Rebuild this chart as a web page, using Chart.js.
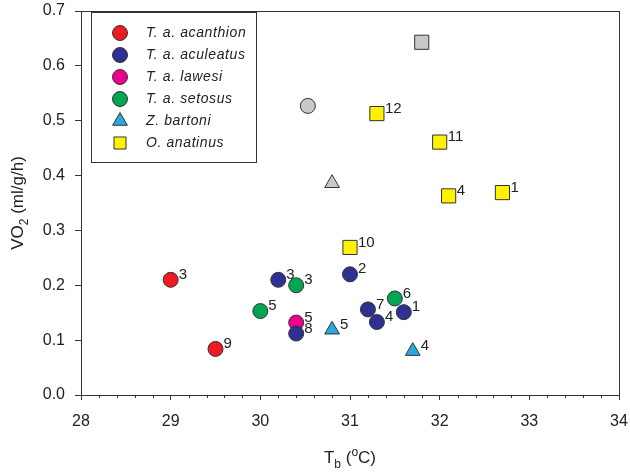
<!DOCTYPE html>
<html>
<head>
<meta charset="utf-8">
<script src="https://cdn.jsdelivr.net/npm/chart.js@4.4.1/dist/chart.umd.min.js"></script>
<style>
  body { margin: 0; background: #fff; }
  canvas { display: block; }
</style>
</head>
<body>
<canvas id="chart" width="630" height="472"></canvas>
<script>
// data: body temperature (x) vs VO2 (y), label = n
const acanthionX = [29.0, 29.5];
const acanthionY = [0.210, 0.084];
const acanthionN = ["3", "9"];

const aculeatusX = [30.2, 31.0, 31.2, 31.3, 31.6, 30.4];
const aculeatusY = [0.210, 0.220, 0.156, 0.133, 0.151, 0.112];
const aculeatusN = ["3", "2", "7", "4", "1", "8"];

const lawesiX = [30.4];
const lawesiY = [0.132];
const lawesiN = ["5"];

const setosusX = [30.0, 30.4, 31.5];
const setosusY = [0.153, 0.200, 0.176];
const setosusN = ["5", "3", "6"];

const bartoniX = [30.8, 31.7];
const bartoniY = [0.119, 0.080];
const bartoniN = ["5", "4"];

const anatinusX = [31.3, 32.0, 32.1, 32.7, 31.0];
const anatinusY = [0.513, 0.461, 0.363, 0.369, 0.269];
const anatinusN = ["12", "11", "4", "1", "10"];

// grey means (no legend entry)
const meanX = [30.53, 30.8, 31.8];
const meanY = [0.527, 0.386, 0.643];
const meanStyle = ["circle", "triangle", "rect"];

const xTicks = [28, 29, 30, 31, 32, 33, 34];
const yTicks = [0, 0.1, 0.2, 0.3, 0.4, 0.5, 0.6, 0.7];

const FONT = 'Arial, "Liberation Sans", sans-serif';
const EDGE = "#333";

function pts(xs, ys) {
    return xs.map((x, i) => ({ x: x, y: ys[i] }));
}

function styleRadius(s) {
    if (s === "rect") return 10;
    if (s === "triangle") return 8.5;
    return 7.5;
}

function series(label, xs, ys, ns, color, style) {
    return {
        label: label,
        data: pts(xs, ys),
        nums: ns,
        pointStyle: style,
        pointRadius: styleRadius(style),
        pointHoverRadius: styleRadius(style),
        backgroundColor: color,
        borderColor: EDGE,
        borderWidth: 1,
        showLine: false,
    };
}

const datasets = [
    series("T. a. acanthion", acanthionX, acanthionY, acanthionN, "#ed1c24", "circle"),
    series("T. a. aculeatus", aculeatusX, aculeatusY, aculeatusN, "#2e3192", "circle"),
    series("T. a. lawesi", lawesiX, lawesiY, lawesiN, "#ec008c", "circle"),
    series("T. a. setosus", setosusX, setosusY, setosusN, "#00a651", "circle"),
    series("Z. bartoni", bartoniX, bartoniY, bartoniN, "#27aae1", "triangle"),
    series("O. anatinus", anatinusX, anatinusY, anatinusN, "#fff200", "rect"),
    {
        label: "means",
        data: pts(meanX, meanY),
        nums: [],
        hideInLegend: true,
        pointStyle: meanStyle,
        pointRadius: meanStyle.map(styleRadius),
        backgroundColor: "#c8c8c8",
        borderColor: EDGE,
        borderWidth: 1,
        showLine: false,
    },
];

// frame, minor ticks, axis titles, point numbers, legend box
const extras = {
    id: "extras",
    afterDatasetsDraw(chart) {
        const ctx = chart.ctx;
        ctx.save();
        ctx.fillStyle = "#222";
        ctx.font = "15px " + FONT;
        ctx.textAlign = "left";
        ctx.textBaseline = "middle";
        chart.data.datasets.forEach((ds, di) => {
            const meta = chart.getDatasetMeta(di);
            ds.nums.forEach((n, i) => {
                const p = meta.data[i];
                ctx.fillText(n, p.x + 8, p.y - 5);
            });
        });
        ctx.restore();
    },
    afterDraw(chart) {
        const ctx = chart.ctx;
        const a = chart.chartArea;
        const xs = chart.scales.x;
        ctx.save();
        ctx.strokeStyle = EDGE;
        ctx.lineWidth = 1;
        ctx.strokeRect(Math.round(a.left) + 0.5, Math.round(a.top) + 0.5,
            Math.round(a.right - a.left), Math.round(a.bottom - a.top));

        // minor ticks on x
        ctx.beginPath();
        for (let v = 28; v < 34; v += 0.2) {
            const r = Math.round(v * 10) / 10;
            if (Math.abs(r - Math.round(r)) < 1e-6) continue;
            const px = Math.round(xs.getPixelForValue(r)) + 0.5;
            ctx.moveTo(px, a.bottom);
            ctx.lineTo(px, a.bottom + 3);
        }
        ctx.stroke();

        // x title: T_b (°C)
        ctx.fillStyle = "#222";
        ctx.textBaseline = "alphabetic";
        ctx.textAlign = "left";
        const big = "17px " + FONT, small = "12px " + FONT;
        const parts = [["T", big, 0], ["b", small, 5], [" (", big, 0], ["o", small, -7], ["C)", big, 0]];
        drawRich(ctx, parts, (a.left + a.right) / 2, 463);

        // y title: VO_2 (ml/g/h)
        ctx.save();
        ctx.translate(23, (a.top + a.bottom) / 2);
        ctx.rotate(-Math.PI / 2);
        drawRich(ctx, [["VO", big, 0], ["2", small, 5], [" (ml/g/h)", big, 0]], 0, 0);
        ctx.restore();

        // legend
        const lx = 91, ly = 12, lw = 165, lh = 150;
        ctx.fillStyle = "#fff";
        ctx.fillRect(lx, ly, lw, lh);
        ctx.strokeStyle = EDGE;
        ctx.strokeRect(lx + 0.5, ly + 0.5, lw, lh);
        let row = 0;
        chart.data.datasets.forEach((ds) => {
            if (ds.hideInLegend) return;
            const cy = ly + 21 + row * 22;
            ctx.fillStyle = ds.backgroundColor;
            ctx.strokeStyle = EDGE;
            Chart.helpers.drawPoint(ctx, {
                pointStyle: ds.pointStyle,
                radius: ds.pointStyle === "rect" ? 8.5 : ds.pointRadius,
                borderWidth: 1,
                rotation: 0,
            }, lx + 29, cy);
            ctx.fillStyle = "#222";
            ctx.font = "italic 14px " + FONT;
            ctx.letterSpacing = "0.6px";
            ctx.textBaseline = "middle";
            ctx.textAlign = "left";
            ctx.fillText(ds.label.split(" ").join("  ").replace(/\.  /g, ". "), lx + 55, cy);
            ctx.letterSpacing = "0px";
            row++;
        });
        ctx.restore();
    },
};

function drawRich(ctx, parts, cx, y) {
    let w = 0;
    parts.forEach((p) => { ctx.font = p[1]; w += ctx.measureText(p[0]).width; });
    let x = cx - w / 2;
    parts.forEach((p) => {
        ctx.font = p[1];
        ctx.fillText(p[0], x, y + p[2]);
        x += ctx.measureText(p[0]).width;
    });
}

new Chart(document.getElementById("chart"), {
    type: "scatter",
    data: { datasets: datasets },
    options: {
        responsive: false,
        animation: false,
        layout: { padding: { top: 5, right: 8, left: 0, bottom: 0 } },
        plugins: {
            legend: { display: false },
            tooltip: { enabled: false },
        },
        scales: {
            x: {
                type: "linear",
                min: xTicks[0],
                max: xTicks[xTicks.length - 1],
                afterBuildTicks: (s) => { s.ticks = xTicks.map((v) => ({ value: v })); },
                ticks: { color: "#222", font: { family: FONT, size: 16 }, padding: 12 },
                grid: { drawOnChartArea: false, color: EDGE, tickLength: 5 },
                border: { color: EDGE },
                afterFit: (s) => { s.height = 77; s.paddingLeft = 0; s.paddingRight = 0; },
            },
            y: {
                type: "linear",
                min: yTicks[0],
                max: yTicks[yTicks.length - 1],
                afterBuildTicks: (s) => { s.ticks = yTicks.map((v) => ({ value: v })); },
                ticks: {
                    color: "#222",
                    font: { family: FONT, size: 16 },
                    padding: 10,
                    callback: (v) => v.toFixed(1),
                },
                grid: { drawOnChartArea: false, color: EDGE, tickLength: 6 },
                border: { color: EDGE },
                afterFit: (s) => { s.width = 81; s.paddingTop = 0; s.paddingBottom = 0; },
            },
        },
    },
    plugins: [extras],
});
</script>
</body>
</html>
